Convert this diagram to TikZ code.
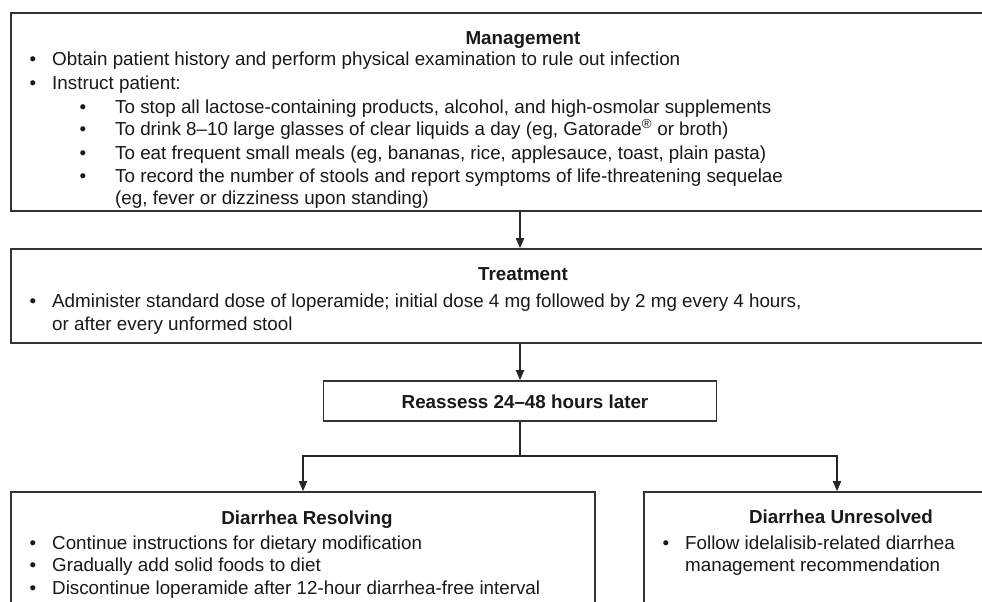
\documentclass[tikz,border=0pt]{standalone}
\usepackage{fontspec}
\setmainfont{Liberation Sans}
\usetikzlibrary{arrows.meta}
\tikzset{
  box/.style={draw=black!80, line width=1.6pt, inner sep=0pt},
  conn/.style={draw=black!85, line width=1.6pt},
  arr/.style={conn, -{Triangle[length=10pt,width=8pt]}},
  txt/.style={anchor=base west, inner sep=0pt, font=\fontsize{18.8}{22}\selectfont, text=black!90},
  ttl/.style={anchor=base, inner sep=0pt, font=\fontsize{18.8}{22}\selectfont\bfseries, text=black!90},
}
\begin{document}
\begin{tikzpicture}[x=1pt,y=-1pt]
\useasboundingbox (0,0) rectangle (982,602);
\clip (0,0) rectangle (982,602);
\fill[white] (0,0) rectangle (982,602);
% boxes
\node[box, minimum width=1018pt, minimum height=198pt] (mgmt) at (520,112) {};
\node[box, minimum width=1018pt, minimum height=94pt] (treat) at (520,296) {};
\node[box, minimum width=393pt, minimum height=40pt] (reas) at (520,401) {};
\node[box, minimum width=584pt, minimum height=160pt] (res) at (303,572) {};
\node[box, minimum width=386pt, minimum height=160pt] (unres) at (837,572) {};
% management text
\node[ttl] (mt) at (523,45) {Management};
\node[txt] (mb1) at (29.5,66) {•};
\node[txt] (m1) at (52,66) {Obtain patient history and perform physical examination to rule out infection};
\node[txt] (mb2) at (29.5,89) {•};
\node[txt] (m2) at (52,89) {Instruct patient:};
\node[txt] (sb1) at (79.5,113) {•};
\node[txt] (s1) at (115,113) {To stop all lactose-containing products, alcohol, and high-osmolar supplements};
\node[txt] (sb2) at (79.5,135) {•};
\node[txt] (s2) at (115,135) {To drink 8–10 large glasses of clear liquids a day (eg, Gatorade\textsuperscript{®} or broth)};
\node[txt] (sb3) at (79.5,159) {•};
\node[txt] (s3) at (115,159) {To eat frequent small meals (eg, bananas, rice, applesauce, toast, plain pasta)};
\node[txt] (sb4) at (79.5,182) {•};
\node[txt] (s4) at (115,182) {To record the number of stools and report symptoms of life-threatening sequelae};
\node[txt] (s4b) at (115,204) {(eg, fever or dizziness upon standing)};
% treatment text
\node[ttl] (tt) at (523,280) {Treatment};
\node[txt] (tb1) at (29.5,307) {•};
\node[txt] (t1) at (52,307) {Administer standard dose of loperamide; initial dose 4 mg followed by 2 mg every 4 hours,};
\node[txt] (t1b) at (52,330) {or after every unformed stool};
% reassess
\node[ttl] (rt) at (525,408) {Reassess 24–48 hours later};
% resolving
\node[ttl] (rst) at (307,524) {Diarrhea Resolving};
\node[txt] (rb1) at (29.5,549) {•};
\node[txt] (r1) at (52,549) {Continue instructions for dietary modification};
\node[txt] (rb2) at (29.5,571) {•};
\node[txt] (r2) at (52,571) {Gradually add solid foods to diet};
\node[txt] (rb3) at (29.5,594) {•};
\node[txt] (r3) at (52,594) {Discontinue loperamide after 12-hour diarrhea-free interval};
% unresolved
\node[ttl] (ut) at (841,523) {Diarrhea Unresolved};
\node[txt] (ub1) at (662.5,549) {•};
\node[txt] (u1) at (685,549) {Follow idelalisib-related diarrhea};
\node[txt] (u1b) at (685,571) {management recommendation};
% connectors
\draw[arr] (mgmt.south) -- (treat.north);
\draw[arr] (treat.south) -- (reas.north);
\coordinate (split) at (520,456);
\draw[conn] (reas.south) -- (split);
\draw[arr] (split) -| (res.north);
\draw[arr] (split) -| (unres.north);
\end{tikzpicture}
\end{document}
